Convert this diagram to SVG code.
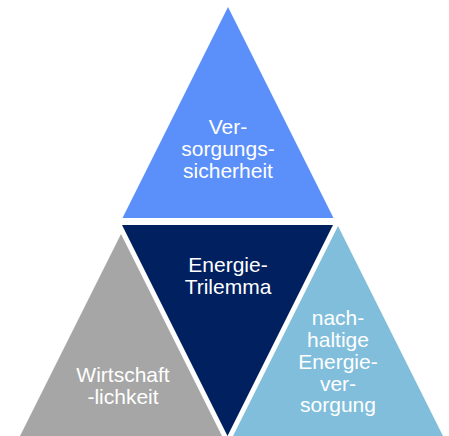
<svg xmlns="http://www.w3.org/2000/svg" width="449" height="436" viewBox="0 0 449 436">
  <style>
    .lbl { font-family: "Liberation Sans", Arial, sans-serif; font-size: 21px; fill: #ffffff; text-anchor: middle; }
  </style>
  <rect width="449" height="436" fill="#ffffff"/>
  <g id="connectors"/>
  <g id="versorgungssicherheit">
    <polygon points="228,7 333.5,218 122.5,218" fill="#5b8ff9"/>
    <text class="lbl" x="228" y="134">Ver-</text>
    <text class="lbl" x="228" y="156">sorgungs-</text>
    <text class="lbl" x="228" y="178">sicherheit</text>
  </g>
  <g id="energie-trilemma">
    <polygon points="122,225 333,225 227.5,436" fill="#002060"/>
    <text class="lbl" x="228" y="272">Energie-</text>
    <text class="lbl" x="228" y="294">Trilemma</text>
  </g>
  <g id="wirtschaftlichkeit">
    <polygon points="121,234 226.5,445 15.5,445" fill="#a6a6a6"/>
    <text class="lbl" x="123" y="382">Wirtschaft</text>
    <text class="lbl" x="123" y="404">-lichkeit</text>
  </g>
  <g id="nachhaltige-energieversorgung">
    <polygon points="338,226 443.5,437 232.5,437" fill="#80bedc"/>
    <text class="lbl" x="338" y="325">nach-</text>
    <text class="lbl" x="338" y="347">haltige</text>
    <text class="lbl" x="338" y="369">Energie-</text>
    <text class="lbl" x="338" y="390.5">ver-</text>
    <text class="lbl" x="338" y="412">sorgung</text>
  </g>
</svg>
